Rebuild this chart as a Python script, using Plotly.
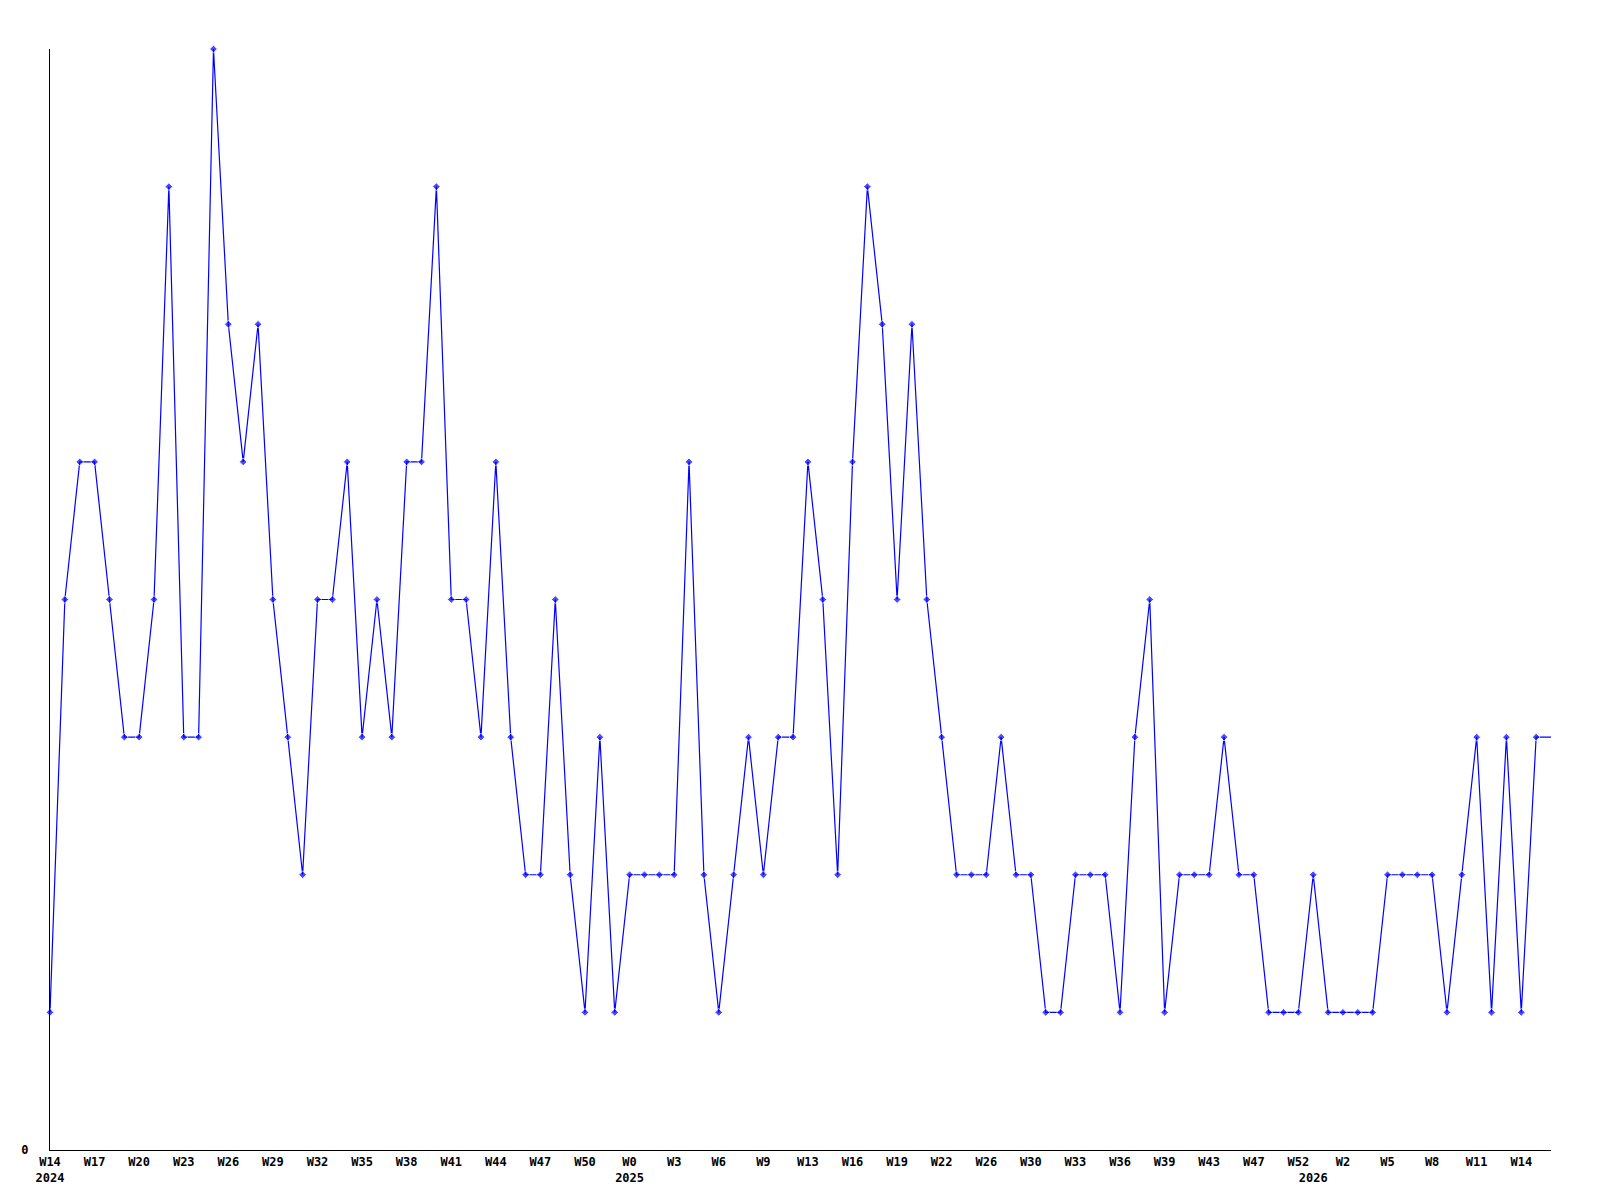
import plotly.graph_objects as go

# weekly values (index 0 = 2024 W14)
values = [1, 4, 5, 5, 4, 3, 3, 4, 7, 3,
          3, 8, 6, 5, 6, 4, 3, 2, 4, 4,
          5, 3, 4, 3, 5, 5, 7, 4, 4, 3,
          5, 3, 2, 2, 4, 2, 1, 3, 1, 2,
          2, 2, 2, 5, 2, 1, 2, 3, 2, 3,
          3, 5, 4, 2, 5, 7, 6, 4, 6, 4,
          3, 2, 2, 2, 3, 2, 2, 1, 1, 2,
          2, 2, 1, 3, 4, 1, 2, 2, 2, 3,
          2, 2, 1, 1, 1, 2, 1, 1, 1, 1,
          2, 2, 2, 2, 1, 2, 3, 1, 3, 1,
          3, 3]

tick_positions = [0, 3, 6, 9, 12, 15, 18, 21, 24, 27, 30, 33, 36, 39, 42, 45, 48, 51,
                  54, 57, 60, 63, 66, 69, 72, 75, 78, 81, 84, 85, 87, 90, 93, 96, 99]
tick_labels = ["W14<br>2024", "W17", "W20", "W23", "W26", "W29", "W32", "W35", "W38",
               "W41", "W44", "W47", "W50", "W0<br>2025", "W3", "W6", "W9", "W13",
               "W16", "W19", "W22", "W26", "W30", "W33", "W36", "W39", "W43", "W47",
               "W52", "<br>2026", "W2", "W5", "W8", "W11", "W14"]

x = list(range(len(values)))
marker_sizes = [6] * (len(values) - 1) + [0]

fig = go.Figure()
fig.add_trace(go.Scatter(
    x=x, y=values, mode="lines+markers",
    line=dict(color="#0000ff", width=1.2),
    marker=dict(color="#0000ff", size=marker_sizes, symbol="diamond"),
    cliponaxis=False, showlegend=False,
))

font = dict(family="DejaVu Sans Mono", size=12, color="black", weight="bold")
fig.update_layout(
    width=1592, height=1192,
    margin=dict(l=42, r=49, t=41, b=50),
    plot_bgcolor="white", paper_bgcolor="white",
    xaxis=dict(range=[0, 101], tickvals=tick_positions, ticktext=tick_labels,
               showgrid=False, zeroline=False, showline=True, linecolor="black",
               linewidth=1, ticks="", tickfont=font, tickangle=0, ticklabelstandoff=1),
    yaxis=dict(range=[0, 8], tickvals=[0], ticktext=["0"], showgrid=False,
               zeroline=False, showline=True, linecolor="black", linewidth=1,
               ticks="", tickfont=font, ticklabelstandoff=18),
)
fig.write_html("out.html")
